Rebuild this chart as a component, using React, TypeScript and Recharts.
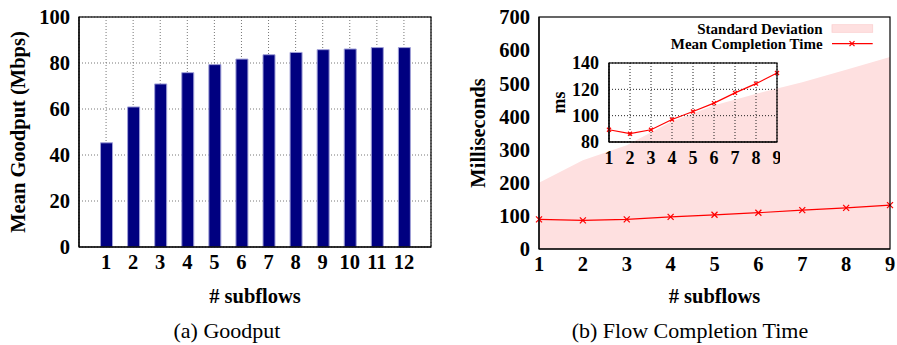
import React from 'react'
import {
  BarChart, Bar, ComposedChart, Area, Line, XAxis, YAxis, CartesianGrid, Label,
} from 'recharts'

// (a) goodput per number of subflows
const subflowCounts = [1, 2, 3, 4, 5, 6, 7, 8, 9, 10, 11, 12]
const meanGoodput = [45.3, 60.9, 70.9, 75.8, 79.3, 81.7, 83.6, 84.6, 85.8, 86.1, 86.7, 86.7]
const goodputTicks = [0, 20, 40, 60, 80, 100]

// (b) flow completion time
const fctSubflows = [1, 2, 3, 4, 5, 6, 7, 8, 9]
const meanCompletion = [89.3, 86.3, 89.3, 97.1, 103.2, 109.5, 117.3, 124.3, 132.4]
const stdDevUpper = [200, 268, 313, 383, 434, 470, 503, 541, 579]
const msTicks = [0, 100, 200, 300, 400, 500, 600, 700]
const insetTicks = [80, 100, 120, 140]

const goodputData = subflowCounts.map((n, i) => ({ n, goodput: meanGoodput[i] }))
const fctData = fctSubflows.map((n, i) => ({ n, mean: meanCompletion[i], sd: stdDevUpper[i] }))

const FONT = '"Liberation Serif", "Times New Roman", Times, serif'
const PINK = '#fee0e0'
const tick = { fontSize: 20.5, fontWeight: 'bold', fill: '#000', fontFamily: FONT }
const insetTick = { fontSize: 18, fontWeight: 'bold', fill: '#000', fontFamily: FONT }

// chart boxes: position on the page, size, margins and axis sizes
const boxA = { left: 0, top: 0, w: 440, h: 310, m: { top: 17, right: 9, left: 0, bottom: 0 }, yw: 79, xh: 63 }
const boxB = { left: 460, top: 0, w: 437, h: 310, m: { top: 17, right: 7, left: 0, bottom: 0 }, yw: 79, xh: 61 }
const boxI = { left: 540, top: 50, w: 240, h: 122, m: { top: 13, right: 3, left: 0, bottom: 0 }, yw: 69, xh: 30 }

const plotRect = (b: typeof boxA) => ({
  x: b.left + b.yw, y: b.top + b.m.top,
  width: b.w - b.m.right - b.yw, height: b.h - b.xh - b.m.top,
})

const yTitle = (text: string, dx: number, size: number) => (props: any) => {
  const vb = props.viewBox || { x: 0, y: 0, width: 0, height: 0 }
  const x = vb.x + dx
  const y = vb.y + vb.height / 2
  return (
    <text x={x} y={y} transform={`rotate(-90 ${x} ${y})`} textAnchor="middle" dy="0.33em"
      fontSize={size} fontWeight="bold" fontFamily={FONT} fill="#000">{text}</text>
  )
}

const Cross = (size: number) => (props: any) => {
  const { cx, cy } = props
  if (cx == null || cy == null) return null
  return (
    <g stroke="#ff0000" strokeWidth={1.2}>
      <line x1={cx - size} y1={cy - size} x2={cx + size} y2={cy + size} />
      <line x1={cx - size} y1={cy + size} x2={cx + size} y2={cy - size} />
    </g>
  )
}

export default function App() {
  return (
    <div style={{ position: 'absolute', left: 0, top: 0, width: 897, height: 345, background: '#fff', overflow: 'hidden' }}>
      {/* (a) Goodput */}
      <div style={{ position: 'absolute', left: boxA.left, top: boxA.top }}>
        <BarChart width={boxA.w} height={boxA.h} data={goodputData} margin={boxA.m}>
          <CartesianGrid stroke="#777" strokeDasharray="1 2" />
          <XAxis dataKey="n" type="number" domain={[0, 13]} ticks={subflowCounts} interval={0}
            tick={tick} tickSize={0} tickMargin={7.5} height={boxA.xh} stroke="#000" strokeWidth={1.2}>
            <Label value="# subflows" position="insideBottom" offset={7} fontSize={20.5} fontWeight="bold" fontFamily={FONT} fill="#000" />
          </XAxis>
          <YAxis domain={[0, 100]} ticks={goodputTicks} interval={0} tick={tick} tickSize={0} tickMargin={9}
            width={boxA.yw} stroke="#000" strokeWidth={1.2}
            label={{ content: yTitle('Mean Goodput (Mbps)', 18.3, 20.5) }} />
          <Bar dataKey="goodput" fill="#000080" stroke="#a0a0d8" strokeWidth={1} barSize={12} isAnimationActive={false} />
        </BarChart>
      </div>

      {/* (b) Flow completion time */}
      <div style={{ position: 'absolute', left: boxB.left, top: boxB.top }}>
        <ComposedChart width={boxB.w} height={boxB.h} data={fctData} margin={boxB.m}>
          <XAxis dataKey="n" type="number" domain={[1, 9]} ticks={fctSubflows} interval={0}
            tick={tick} tickSize={0} tickMargin={7} height={boxB.xh} stroke="#000" strokeWidth={1.2}>
            <Label value="# subflows" position="insideBottom" offset={7} fontSize={20.5} fontWeight="bold" fontFamily={FONT} fill="#000" />
          </XAxis>
          <YAxis domain={[0, 700]} ticks={msTicks} interval={0} tick={tick} tickSize={0} tickMargin={9}
            width={boxB.yw} stroke="#000" strokeWidth={1.2}
            label={{ content: yTitle('Milliseconds', 18.3, 20.5) }} />
          <Area dataKey="sd" type="linear" fill={PINK} fillOpacity={1} stroke="none" isAnimationActive={false} />
          <Line dataKey="mean" type="linear" stroke="#ff0000" strokeWidth={1.2} dot={Cross(3)} isAnimationActive={false} />
        </ComposedChart>
      </div>

      {/* inset */}
      <div style={{ position: 'absolute', left: boxI.left, top: boxI.top }}>
        <ComposedChart width={boxI.w} height={boxI.h} data={fctData} margin={boxI.m}>
          <CartesianGrid stroke="#222" strokeDasharray="1 2" />
          <XAxis dataKey="n" type="number" domain={[1, 9]} ticks={fctSubflows} interval={0}
            tick={insetTick} tickSize={0} tickMargin={9.5} height={boxI.xh} stroke="#000" strokeWidth={1.2} />
          <YAxis domain={[80, 140]} ticks={insetTicks} interval={0} tick={insetTick} tickSize={0} tickMargin={10}
            width={boxI.yw} stroke="#000" strokeWidth={1.2}
            label={{ content: yTitle('ms', 19.3, 18) }} />
          <Line dataKey="mean" type="linear" stroke="#ff0000" strokeWidth={1.2} dot={Cross(2)} isAnimationActive={false} />
        </ComposedChart>
      </div>

      {/* frames, legend and captions */}
      <svg width={897} height={345} style={{ position: 'absolute', left: 0, top: 0, pointerEvents: 'none' }}>
        {[boxA, boxB, boxI].map((b, i) => (
          <rect key={i} {...plotRect(b)} fill="none" stroke="#000" strokeWidth={1.2} />
        ))}
        <g fontFamily={FONT} fontWeight="bold" fontSize={15} fill="#000">
          <text x={822.7} y={34.3} textAnchor="end">Standard Deviation</text>
          <text x={822.7} y={48.7} textAnchor="end">Mean Completion Time</text>
        </g>
        <rect x={832} y={24.7} width={40.7} height={7.6} fill={PINK} stroke="#fbd0d0" strokeWidth={0.8} />
        <line x1={832} y1={43.7} x2={872.7} y2={43.7} stroke="#ff0000" strokeWidth={1.2} />
        <g stroke="#ff0000" strokeWidth={1.2}>
          <line x1={849.5} y1={41.2} x2={854.5} y2={46.2} />
          <line x1={849.5} y1={46.2} x2={854.5} y2={41.2} />
        </g>
        <g fontFamily={FONT} fontSize={22} fill="#000" textAnchor="middle">
          <text x={227} y={338}>(a) Goodput</text>
          <text x={690} y={338}>(b) Flow Completion Time</text>
        </g>
      </svg>
    </div>
  )
}
